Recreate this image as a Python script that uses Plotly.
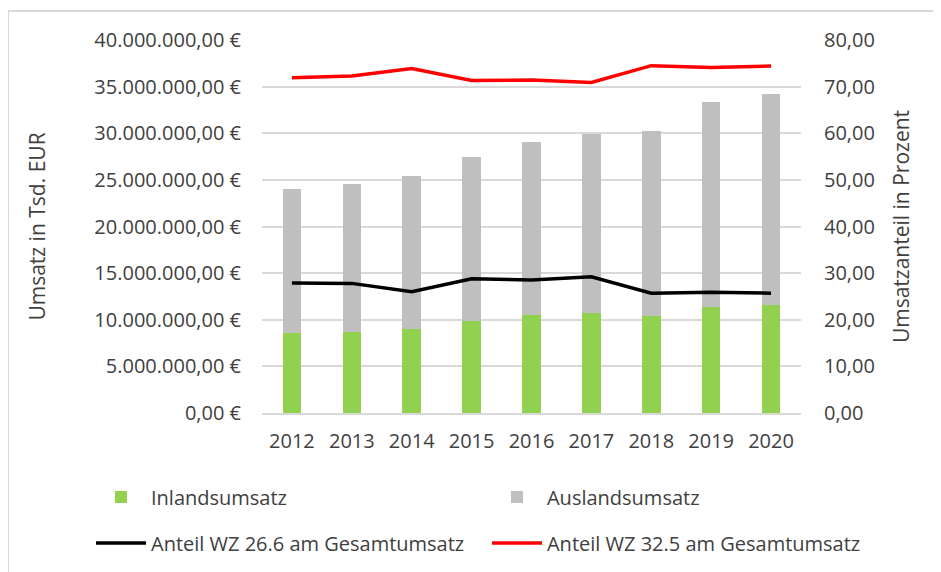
import plotly.graph_objects as go

years = ["2012", "2013", "2014", "2015", "2016", "2017", "2018", "2019", "2020"]
inlandsumsatz = [8530000, 8640000, 9000000, 9860000, 10500000, 10750000, 10430000, 11320000, 11570000]
auslandsumsatz = [15520000, 15960000, 16400000, 17640000, 18600000, 19150000, 19770000, 21980000, 22630000]
anteil_wz_26_6 = [27.9, 27.8, 26.0, 28.8, 28.5, 29.2, 25.7, 25.9, 25.7]
anteil_wz_32_5 = [71.9, 72.3, 73.9, 71.3, 71.4, 70.9, 74.5, 74.1, 74.4]

FONT = "Open Sans"
TXT = "#404040"
GRID = "#d9d9d9"

fig = go.Figure()
fig.add_trace(go.Bar(x=years, y=inlandsumsatz, name="Inlandsumsatz", showlegend=True,
                     marker=dict(color="#92d050", line=dict(width=0)), legend="legend"))
fig.add_trace(go.Bar(x=years, y=auslandsumsatz, name="Auslandsumsatz", showlegend=True,
                     marker=dict(color="#bfbfbf", line=dict(width=0)), legend="legend2"))
fig.add_trace(go.Scatter(x=years, y=anteil_wz_26_6, name="Anteil WZ 26.6 am Gesamtumsatz",
                         mode="lines", line=dict(color="#000000", width=3.5), yaxis="y2",
                         showlegend=True, legend="legend3"))
fig.add_trace(go.Scatter(x=years, y=anteil_wz_32_5, name="Anteil WZ 32.5 am Gesamtumsatz",
                         mode="lines", line=dict(color="#ff0000", width=3.5), yaxis="y2",
                         showlegend=True, legend="legend4"))

legend_common = dict(orientation="h", xref="container", yref="container",
                     xanchor="left", yanchor="middle",
                     itemwidth=50, font=dict(family=FONT, size=20, color=TXT),
                     bgcolor="rgba(0,0,0,0)", traceorder="normal")

fig.update_layout(
    width=941, height=572,
    showlegend=True,
    margin=dict(l=254, r=148, t=32, b=167),
    paper_bgcolor="white", plot_bgcolor="white",
    separators=",.",
    barmode="stack", bargap=0.69,
    font=dict(family=FONT, size=20, color=TXT),
    xaxis=dict(type="category", showgrid=False, showline=True, linecolor=GRID, linewidth=1.5,
               ticks="", ticklabelstandoff=9, tickfont=dict(size=20, color=TXT)),
    yaxis=dict(range=[0, 40000000], dtick=5000000, tickformat=",.2f", ticksuffix=" €",
               showgrid=True, gridcolor=GRID, gridwidth=1.5, zeroline=False, ticks="",
               ticklabelstandoff=20, tickfont=dict(size=20, color=TXT),
               title=dict(text="Umsatz in Tsd. EUR", standoff=42, font=dict(size=21, color=TXT))),
    yaxis2=dict(range=[0, 80], dtick=10, tickformat=".2f", overlaying="y", side="right",
                showgrid=False, zeroline=False, ticks="", ticklabelstandoff=22,
                tickfont=dict(size=20, color=TXT),
                title=dict(text="Umsatzanteil in Prozent", standoff=20, font=dict(size=21, color=TXT))),
    legend=dict(x=0.0882, y=0.145, **legend_common),
    legend2=dict(x=0.509, y=0.145, **legend_common),
    legend3=dict(x=0.0882, y=0.0647, **legend_common),
    legend4=dict(x=0.509, y=0.0647, **legend_common),
    shapes=[dict(type="rect", xref="paper", yref="paper", x0=-0.4712, x1=1.3, y0=-0.5, y1=1.0777,
                 line=dict(color=GRID, width=2), fillcolor="rgba(0,0,0,0)", layer="below")],
)

fig.write_html("out.html")
